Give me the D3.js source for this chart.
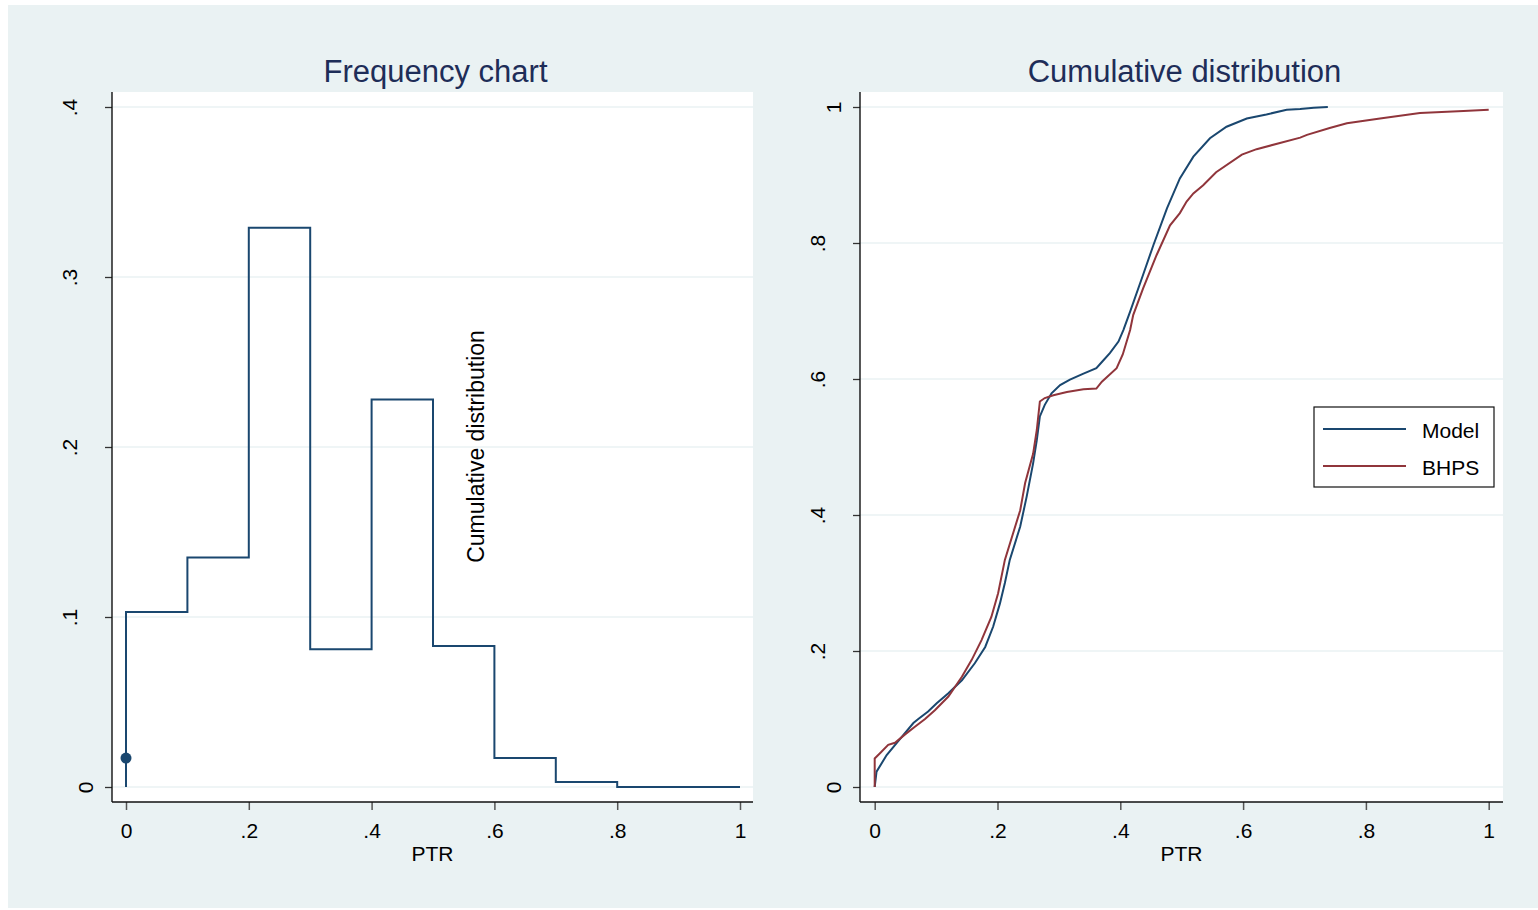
<!DOCTYPE html>
<html>
<head>
<meta charset="utf-8">
<script src="https://cdn.jsdelivr.net/npm/d3@7"></script>
<style>
  body { margin: 0; background: #fff; }
  text { font-family: "Liberation Sans", Arial, Helvetica, sans-serif; }
</style>
</head>
<body>
<script>
// histogram of PTR (bin starts, frequency)
var binStart = [0, 0.1, 0.2, 0.3, 0.4, 0.5, 0.6, 0.7, 0.8, 0.9];
var binFreq  = [0.103, 0.135, 0.329, 0.081, 0.228, 0.083, 0.017, 0.003, 0, 0];
var spikeX = [0];
var spikeY = [0.017];

// cumulative distributions
var modelPTR = [0, 0.003, 0.0195, 0.038, 0.063, 0.071, 0.087, 0.101, 0.12, 0.142, 0.163, 0.18, 0.193, 0.204, 0.212, 0.22,
  0.237, 0.2475, 0.258, 0.264, 0.269, 0.277, 0.288, 0.302, 0.318, 0.34, 0.361, 0.37, 0.383, 0.397, 0.405, 0.416,
  0.437, 0.454, 0.476, 0.497, 0.519, 0.546, 0.573, 0.606, 0.638, 0.671, 0.693, 0.715, 0.738];
var modelCDF = [0, 0.0225, 0.047, 0.067, 0.094, 0.1, 0.111, 0.123, 0.138, 0.157, 0.182, 0.206, 0.236, 0.27, 0.30, 0.334,
  0.383, 0.427, 0.476, 0.51, 0.545, 0.562, 0.579, 0.591, 0.599, 0.608, 0.616, 0.625, 0.638, 0.655, 0.672, 0.699,
  0.753, 0.797, 0.851, 0.895, 0.927, 0.954, 0.971, 0.983, 0.989, 0.996, 0.997, 0.999, 1.0];

var bhpsPTR = [0, 0, 0.009, 0.022, 0.033, 0.049, 0.066, 0.082, 0.098, 0.12, 0.142, 0.158, 0.174, 0.19, 0.201, 0.212,
  0.237, 0.245, 0.258, 0.264, 0.269, 0.277, 0.291, 0.313, 0.34, 0.361, 0.37, 0.394, 0.404, 0.416, 0.421, 0.437,
  0.459, 0.481, 0.497, 0.508, 0.519, 0.535, 0.556, 0.598, 0.622, 0.66, 0.693, 0.704, 0.741, 0.769, 0.823, 0.888,
  0.959, 1.0];
var bhpsCDF = [0, 0.042, 0.05, 0.062, 0.065, 0.077, 0.089, 0.1, 0.113, 0.133, 0.162, 0.187, 0.216, 0.25, 0.285, 0.334,
  0.407, 0.447, 0.49, 0.525, 0.567, 0.572, 0.576, 0.581, 0.585, 0.586, 0.596, 0.616, 0.636, 0.672, 0.694, 0.733,
  0.782, 0.826, 0.844, 0.861, 0.873, 0.885, 0.904, 0.93, 0.938, 0.947, 0.955, 0.959, 0.969, 0.976, 0.983, 0.991,
  0.994, 0.996];

var xTicks = [0, 0.2, 0.4, 0.6, 0.8, 1];
var yTicksLeft = [0, 0.1, 0.2, 0.3, 0.4];
var yTicksRight = [0, 0.2, 0.4, 0.6, 0.8, 1];
var seriesNames = ['Model', 'BHPS'];

var blue = '#1a476f';
var red = '#90353b';
var bg = '#eaf2f3';
var titleColor = '#1e2d58';

var svg = d3.select('body').append('svg')
            .attr('width', 1538)
            .attr('height', 910);

svg.append('rect').attr('x', 8).attr('y', 5)
   .attr('width', 1530).attr('height', 903)
   .attr('fill', bg);

// stata style labels: .2 instead of 0.2
function stataFmt(d) {
  var s = d3.format('~g')(d);
  return s.replace(/^0\./, '.');
}

function panel(cfg) {
  var g = svg.append('g');
  g.append('rect')
   .attr('x', cfg.left).attr('y', cfg.top)
   .attr('width', cfg.right - cfg.left).attr('height', cfg.bottom - cfg.top)
   .attr('fill', '#fff');

  var x = d3.scaleLinear().domain([0, 1]).range(cfg.xRange);
  var y = d3.scaleLinear().domain(cfg.yDomain).range(cfg.yRange);

  // gridlines
  g.selectAll('.grid').data(cfg.yTicks).enter().append('line')
   .attr('x1', cfg.left).attr('x2', cfg.right)
   .attr('y1', function(d) { return y(d); })
   .attr('y2', function(d) { return y(d); })
   .attr('stroke', bg).attr('stroke-width', 1.6);

  // axes
  var xAxis = d3.axisBottom(x).tickValues(xTicks).tickFormat(stataFmt)
                .tickSize(8).tickSizeOuter(0);
  var xg = g.append('g')
            .attr('transform', 'translate(0,' + cfg.bottom + ')')
            .call(xAxis);
  xg.select('.domain').remove();
  xg.selectAll('line').attr('stroke', '#555').attr('stroke-width', 1.5);
  xg.selectAll('text')
    .attr('y', 36).attr('dy', 0)
    .attr('fill', '#000')
    .style('font-size', '21px');

  var yAxis = d3.axisLeft(y).tickValues(cfg.yTicks).tickFormat(stataFmt)
                .tickSize(7).tickSizeOuter(0);
  var yg = g.append('g')
            .attr('transform', 'translate(' + cfg.left + ',0)')
            .call(yAxis);
  yg.select('.domain').remove();
  yg.selectAll('line').attr('stroke', '#333').attr('stroke-width', 1.3);
  yg.selectAll('text')
    .attr('x', null).attr('dy', '0.35em')
    .attr('text-anchor', 'middle')
    .attr('fill', '#000')
    .style('font-size', '21px')
    .attr('transform', function(d) {
      var off = 26 + (stataFmt(d).length - 1) * 16.5;
      return 'translate(' + (-off) + ',0)rotate(-90)';
    });

  g.append('line')
   .attr('x1', cfg.left).attr('x2', cfg.right)
   .attr('y1', cfg.bottom).attr('y2', cfg.bottom)
   .attr('stroke', '#111').attr('stroke-width', 1.4);
  g.append('line')
   .attr('x1', cfg.left).attr('x2', cfg.left)
   .attr('y1', cfg.top).attr('y2', cfg.bottom)
   .attr('stroke', '#111').attr('stroke-width', 1.4);

  // titles
  g.append('text')
   .attr('x', (cfg.left + cfg.right) / 2 + 3).attr('y', 82)
   .attr('text-anchor', 'middle')
   .attr('fill', titleColor)
   .style('font-size', '31px')
   .text(cfg.title);
  g.append('text')
   .attr('x', (cfg.left + cfg.right) / 2).attr('y', 861)
   .attr('text-anchor', 'middle')
   .style('font-size', '21px')
   .text('PTR');

  return {g: g, x: x, y: y};
}

// left panel: frequency chart
var L = panel({left: 112, right: 753, top: 92, bottom: 802,
               xRange: [126, 740], yDomain: [0, 0.4], yRange: [787, 107],
               yTicks: yTicksLeft, title: 'Frequency chart'});

var histPts = [[0, 0]].concat(binStart.map(function(d, i) { return [d, binFreq[i]]; }));
histPts.push([1, 0]);
var stepLine = d3.line()
                 .x(function(d) { return L.x(d[0]); })
                 .y(function(d) { return L.y(d[1]); })
                 .curve(d3.curveStepAfter);
L.g.append('path')
   .attr('d', stepLine(histPts))
   .attr('fill', 'none')
   .attr('stroke', blue)
   .attr('stroke-width', 2);

L.g.selectAll('.spike').data(spikeX).enter().append('circle')
   .attr('cx', function(d) { return L.x(d); })
   .attr('cy', function(d, i) { return L.y(spikeY[i]); })
   .attr('r', 5.5)
   .attr('fill', blue);

L.g.append('text')
   .attr('transform', 'translate(484,446.5)rotate(-90)')
   .attr('text-anchor', 'middle')
   .style('font-size', '23px')
   .text('Cumulative distribution');

// right panel: cumulative distribution
var R = panel({left: 860, right: 1503, top: 92, bottom: 802,
               xRange: [874.7, 1488.7], yDomain: [0, 1], yRange: [787, 107],
               yTicks: yTicksRight, title: 'Cumulative distribution'});

var cdfLine = d3.line()
                .x(function(d) { return R.x(d[0]); })
                .y(function(d) { return R.y(d[1]); });

var series = [
  {name: seriesNames[0], color: blue, pts: modelPTR.map(function(d, i) { return [d, modelCDF[i]]; })},
  {name: seriesNames[1], color: red, pts: bhpsPTR.map(function(d, i) { return [d, bhpsCDF[i]]; })}
];

R.g.selectAll('.cdf').data(series).enter().append('path')
   .attr('d', function(d) { return cdfLine(d.pts); })
   .attr('fill', 'none')
   .attr('stroke', function(d) { return d.color; })
   .attr('stroke-width', 2);

// legend
var legend = R.g.append('g').attr('transform', 'translate(1314,407)');
legend.append('rect')
      .attr('width', 180).attr('height', 80)
      .attr('fill', '#fff')
      .attr('stroke', '#111').attr('stroke-width', 1.2);
var items = legend.selectAll('.item').data(series).enter().append('g')
                  .attr('transform', function(d, i) { return 'translate(0,' + (22 + i * 37) + ')'; });
items.append('line')
     .attr('x1', 9).attr('x2', 92)
     .attr('stroke', function(d) { return d.color; })
     .attr('stroke-width', 2);
items.append('text')
     .attr('x', 108).attr('y', 9)
     .style('font-size', '21px')
     .text(function(d) { return d.name; });
</script>
</body>
</html>
